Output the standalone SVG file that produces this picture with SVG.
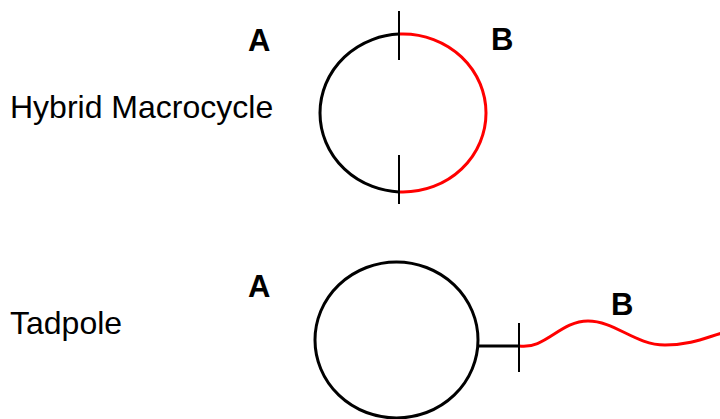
<svg xmlns="http://www.w3.org/2000/svg" width="720" height="419" viewBox="0 0 720 419">
<style>
.lbl{font-family:"Liberation Sans",Arial,sans-serif;font-size:32px;fill:#000}
.key{font-family:"Liberation Sans",Arial,sans-serif;font-size:31px;font-weight:bold;fill:#000}
.blk{fill:none;stroke:#000;stroke-width:3}
.red{fill:none;stroke:#f00;stroke-width:3}
.tick{fill:none;stroke:#000;stroke-width:2}
</style>
<defs>
<clipPath id="leftHalf"><rect x="0" y="0" width="399" height="419"/></clipPath>
<clipPath id="rightHalf"><rect x="399" y="0" width="321" height="419"/></clipPath>
</defs>
<rect width="720" height="419" fill="#fff"/>
<g id="hybrid">
<text class="lbl" x="10" y="118">Hybrid Macrocycle</text>
<text class="key" x="248" y="51">A</text>
<text class="key" x="491" y="50">B</text>
<ellipse class="blk" cx="403" cy="113" rx="83" ry="79" clip-path="url(#leftHalf)"/>
<ellipse class="red" cx="403" cy="113" rx="83" ry="79" clip-path="url(#rightHalf)"/>
</g>
<g id="tadpole">
<text class="lbl" x="10" y="334">Tadpole</text>
<text class="key" x="248" y="297">A</text>
<text class="key" x="611" y="315">B</text>
<ellipse class="blk" cx="396.5" cy="340" rx="81.5" ry="78"/>
<path class="red" d="M519,346 C545,350 560,321 588,321 C615,321 635,345 665,345 C690,345 705,338 722,333"/>
</g>
<g id="connectors">
<line class="tick" x1="399" y1="11" x2="399" y2="60"/>
<line class="tick" x1="399" y1="155" x2="399" y2="204"/>
<line class="blk" x1="478" y1="346" x2="519" y2="346"/>
<line class="tick" x1="519" y1="323" x2="519" y2="372"/>
</g>
</svg>
